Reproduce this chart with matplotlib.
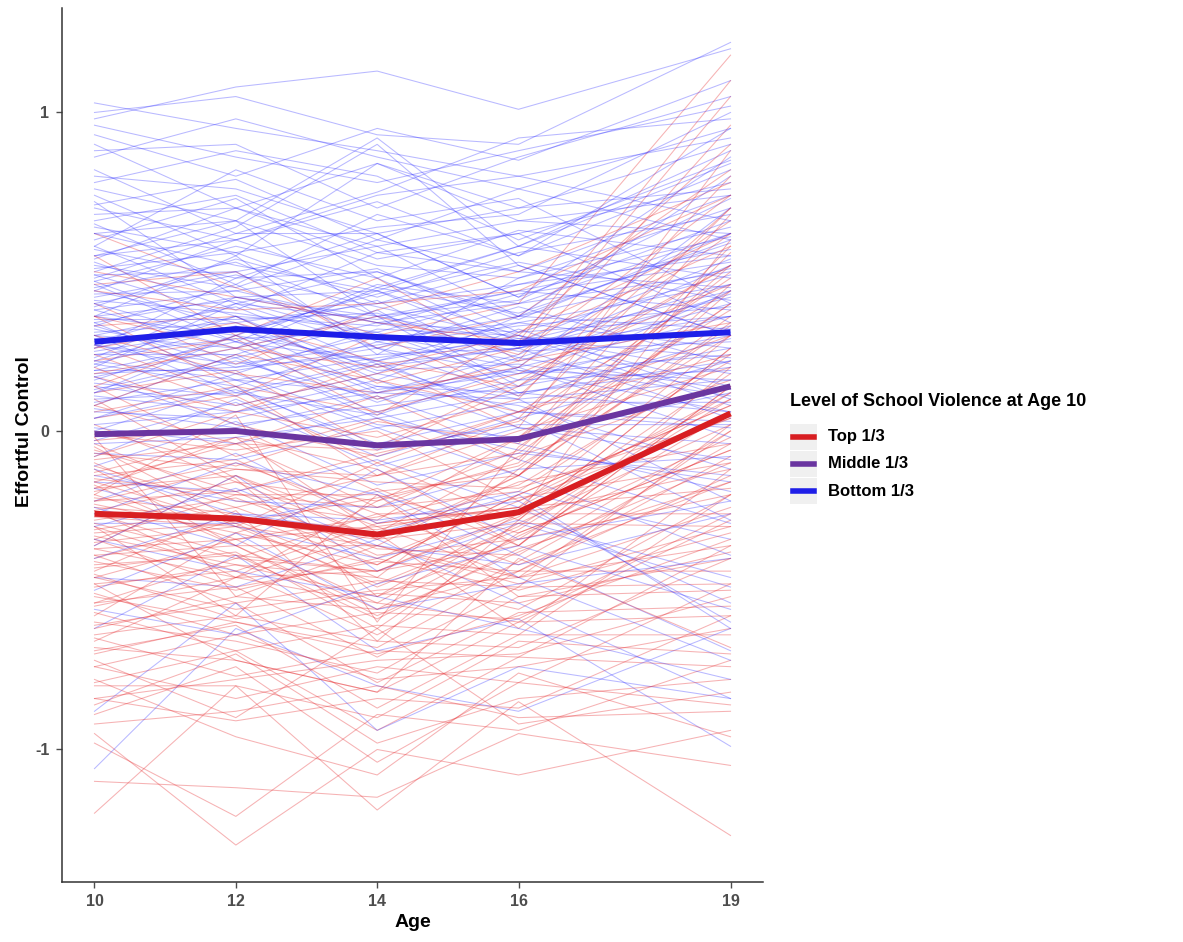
import matplotlib.pyplot as plt
from matplotlib.lines import Line2D
from matplotlib.patches import Rectangle

plt.rcParams['font.family'] = ['Liberation Sans', 'DejaVu Sans']
plt.rcParams['axes.unicode_minus'] = False

ages = [10, 12, 14, 16, 19]

# group means (thick lines)
mean_top = [-0.26, -0.275, -0.325, -0.255, 0.055]
mean_middle = [-0.01, 0.0, -0.045, -0.025, 0.14]
mean_bottom = [0.28, 0.32, 0.295, 0.276, 0.31]

# individual trajectories, bottom 1/3 violence (blue)
bottom_lines = [
    [1.03, 0.95, 0.88, 0.80, 0.92], [0.98, 1.08, 1.13, 1.01, 1.20],
    [1.00, 1.05, 0.93, 0.90, 1.22], [0.93, 0.80, 0.95, 0.85, 1.10],
    [0.88, 0.90, 0.70, 0.86, 1.05], [0.82, 0.62, 0.75, 0.92, 0.98],
    [0.78, 0.88, 0.80, 0.60, 0.85], [0.74, 0.55, 0.84, 0.70, 0.76],
    [0.71, 0.79, 0.60, 0.76, 0.95], [0.68, 0.70, 0.58, 0.66, 0.62],
    [0.65, 0.46, 0.68, 0.55, 0.82], [0.62, 0.66, 0.52, 0.48, 0.70],
    [0.60, 0.73, 0.48, 0.63, 0.55], [0.57, 0.48, 0.62, 0.42, 0.66],
    [0.55, 0.60, 0.45, 0.58, 0.88], [0.53, 0.38, 0.56, 0.50, 0.45],
    [0.51, 0.56, 0.40, 0.46, 0.61], [0.49, 0.50, 0.58, 0.36, 0.51],
    [0.47, 0.31, 0.43, 0.53, 0.41], [0.45, 0.53, 0.36, 0.41, 0.73],
    [0.43, 0.44, 0.51, 0.31, 0.36], [0.41, 0.37, 0.31, 0.43, 0.53],
    [0.40, 0.49, 0.39, 0.29, 0.31], [0.38, 0.26, 0.45, 0.37, 0.59],
    [0.36, 0.41, 0.29, 0.34, 0.26], [0.35, 0.35, 0.37, 0.23, 0.43],
    [0.33, 0.46, 0.26, 0.39, 0.21], [0.32, 0.23, 0.34, 0.31, 0.49],
    [0.30, 0.39, 0.21, 0.26, 0.36], [0.29, 0.31, 0.41, 0.19, 0.16],
    [0.27, 0.21, 0.27, 0.33, 0.39], [0.26, 0.36, 0.19, 0.21, 0.11],
    [0.24, 0.29, 0.31, 0.16, 0.33], [0.22, 0.16, 0.23, 0.29, 0.23],
    [0.21, 0.33, 0.13, 0.19, 0.06], [0.19, 0.19, 0.26, 0.11, 0.29],
    [0.17, 0.26, 0.09, 0.23, 0.13], [0.15, 0.11, 0.21, 0.06, 0.01],
    [0.13, 0.23, 0.06, 0.16, 0.19], [0.11, 0.06, 0.16, 0.01, -0.09],
    [0.09, 0.16, 0.01, 0.09, 0.09], [0.07, 0.01, 0.11, -0.04, -0.19],
    [0.04, 0.13, -0.04, 0.06, 0.03], [0.01, -0.04, 0.06, -0.09, -0.29],
    [-0.03, 0.09, -0.11, 0.01, -0.04], [-0.07, -0.09, 0.01, -0.14, -0.39],
    [-0.11, 0.03, -0.17, -0.07, -0.14], [-0.16, -0.19, -0.09, -0.24, -0.54],
    [-0.22, -0.07, -0.29, -0.19, -0.34], [-0.29, -0.29, -0.19, -0.39, -0.69],
    [-0.36, -0.14, -0.44, -0.29, -0.49], [-0.46, -0.49, -0.34, -0.54, -0.84],
    [-0.62, -0.39, -0.69, -0.59, -0.99], [-0.88, -0.54, -0.94, -0.74, -0.84],
    [-1.06, -0.62, -0.80, -0.88, -0.62], [0.58, 0.82, 0.66, 0.73, 0.40],
    [0.44, 0.60, 0.72, 0.55, 0.95], [0.36, 0.55, 0.24, 0.48, 0.64],
    [0.26, 0.48, 0.50, 0.36, 0.80], [0.46, 0.28, 0.22, 0.30, 0.08],
    [0.20, 0.40, 0.35, 0.44, 0.57], [0.12, 0.30, 0.44, 0.26, 0.46],
    [0.72, 0.42, 0.36, 0.12, 0.22], [0.30, 0.12, 0.05, 0.20, 0.70],
    [0.50, 0.64, 0.90, 0.52, 0.30], [0.62, 0.52, 0.44, 0.58, 0.48],
    [0.58, 0.40, 0.50, 0.35, 0.62], [0.55, 0.66, 0.36, 0.44, 0.38],
    [0.52, 0.45, 0.60, 0.50, 0.74], [0.49, 0.36, 0.33, 0.46, 0.55],
    [0.47, 0.58, 0.48, 0.28, 0.44], [0.44, 0.34, 0.40, 0.52, 0.30],
    [0.42, 0.50, 0.28, 0.36, 0.60], [0.40, 0.28, 0.46, 0.40, 0.50],
    [0.38, 0.44, 0.34, 0.25, 0.28], [0.36, 0.30, 0.22, 0.34, 0.46],
    [0.34, 0.42, 0.44, 0.30, 0.18], [0.33, 0.20, 0.30, 0.22, 0.40],
    [0.31, 0.34, 0.18, 0.36, 0.32], [0.30, 0.26, 0.36, 0.28, 0.54],
    [0.28, 0.40, 0.26, 0.18, 0.24], [0.27, 0.18, 0.32, 0.30, 0.14],
    [0.25, 0.32, 0.20, 0.26, 0.42], [0.24, 0.24, 0.38, 0.14, 0.26],
    [0.22, 0.36, 0.16, 0.32, 0.10], [0.21, 0.14, 0.28, 0.20, 0.36],
    [0.19, 0.28, 0.14, 0.12, 0.20], [0.18, 0.20, 0.24, 0.26, 0.04],
    [0.16, 0.30, 0.12, 0.18, 0.30], [0.14, 0.08, 0.18, 0.10, 0.16],
    [0.12, 0.22, 0.10, 0.20, -0.02], [0.10, 0.12, 0.22, 0.04, 0.22],
    [0.08, 0.24, 0.04, 0.12, 0.06], [0.06, 0.04, 0.14, 0.08, -0.12],
    [0.04, 0.18, 0.02, -0.02, 0.12], [0.02, 0.06, 0.12, 0.10, -0.22],
    [0.00, 0.14, -0.06, 0.02, 0.02], [-0.04, -0.02, 0.04, -0.06, -0.16],
    [-0.08, 0.10, -0.08, 0.04, -0.28], [0.66, 0.74, 0.56, 0.62, 0.78],
    [0.70, 0.60, 0.74, 0.80, 0.66], [0.80, 0.76, 0.62, 0.70, 0.90],
    [0.90, 0.70, 0.84, 0.66, 0.74], [0.96, 0.86, 0.78, 0.88, 1.02],
    [0.86, 0.98, 0.86, 0.76, 0.60], [0.76, 0.66, 0.92, 0.58, 0.84],
    [0.64, 0.56, 0.64, 0.68, 1.00], [0.54, 0.70, 0.54, 0.62, 0.34],
    [0.48, 0.62, 0.62, 0.42, 0.86], [0.39, 0.54, 0.42, 0.56, 0.68],
    [0.34, 0.16, 0.12, 0.24, 0.52], [0.23, 0.42, 0.34, 0.40, 0.62],
    [0.17, 0.02, 0.08, 0.14, 0.44], [-0.14, -0.22, -0.24, -0.12, -0.08],
    [-0.24, -0.36, -0.12, -0.34, -0.22], [-0.30, -0.18, -0.36, -0.42, -0.26],
    [-0.40, -0.26, -0.28, -0.22, -0.60], [-0.18, -0.30, -0.40, -0.28, -0.46],
    [-0.50, -0.32, -0.56, -0.48, -0.40], [-0.26, -0.10, -0.20, -0.46, -0.72],
    [-0.56, -0.64, -0.48, -0.36, -0.56], [-0.12, -0.26, -0.32, -0.20, -0.62],
    [-0.34, -0.44, -0.52, -0.62, -0.78],
]

# individual trajectories, top 1/3 violence (red)
top_lines = [
    [0.62, 0.45, 0.30, 0.40, 1.18], [0.55, 0.30, 0.48, 0.22, 0.96],
    [0.46, 0.50, 0.26, 0.36, 0.82], [0.40, 0.21, 0.38, 0.50, 0.78],
    [0.33, 0.36, 0.15, 0.26, 1.05], [0.27, 0.11, 0.30, 0.11, 0.70],
    [0.22, 0.29, 0.05, 0.31, 0.62], [0.17, 0.06, 0.21, 0.01, 0.88],
    [0.12, 0.19, -0.05, 0.16, 0.52], [0.08, -0.04, 0.11, -0.09, 0.58],
    [0.04, 0.11, -0.10, 0.06, 0.44], [0.00, -0.11, 0.03, -0.04, 0.68],
    [-0.03, 0.01, -0.19, -0.14, 0.33], [-0.06, -0.19, -0.07, 0.03, 0.48],
    [-0.09, -0.04, -0.24, -0.19, 0.24], [-0.11, -0.24, -0.14, -0.07, 0.40],
    [-0.14, -0.09, -0.29, -0.24, 0.12], [-0.16, -0.29, -0.21, -0.11, 0.30],
    [-0.18, -0.14, -0.34, -0.29, 0.02], [-0.20, -0.34, -0.27, -0.17, 0.22],
    [-0.22, -0.19, -0.39, -0.34, 0.06], [-0.24, -0.27, -0.31, -0.21, -0.10],
    [-0.26, -0.39, -0.44, -0.27, 0.18], [-0.28, -0.21, -0.37, -0.39, 0.00],
    [-0.30, -0.44, -0.29, -0.24, -0.18], [-0.32, -0.29, -0.49, -0.31, 0.10],
    [-0.34, -0.49, -0.41, -0.44, -0.08], [-0.37, -0.34, -0.54, -0.29, -0.30],
    [-0.39, -0.54, -0.47, -0.49, 0.02], [-0.42, -0.39, -0.59, -0.37, -0.16],
    [-0.45, -0.59, -0.51, -0.54, -0.38], [-0.48, -0.44, -0.64, -0.41, -0.04],
    [-0.51, -0.64, -0.57, -0.59, -0.26], [-0.54, -0.49, -0.71, -0.49, -0.48],
    [-0.57, -0.69, -0.61, -0.64, -0.20], [-0.61, -0.54, -0.79, -0.57, -0.55],
    [-0.65, -0.77, -0.69, -0.71, -0.36], [-0.69, -0.61, -0.87, -0.64, -0.64],
    [-0.74, -0.84, -0.74, -0.79, -0.48], [-0.79, -0.69, -0.94, -0.71, -0.74],
    [-0.84, -0.91, -0.84, -0.87, -0.58], [-0.89, -0.74, -1.04, -0.79, -0.86],
    [-0.98, -1.21, -0.89, -0.94, -0.72], [-1.10, -1.12, -1.15, -0.95, -1.05],
    [-1.20, -0.80, -1.19, -0.85, -1.27], [-0.95, -1.30, -1.00, -1.08, -0.94],
    [-0.05, -0.28, -0.46, -0.12, 0.36], [-0.18, -0.02, -0.12, -0.36, 0.14],
    [-0.25, -0.46, -0.22, -0.02, 0.50], [-0.36, -0.14, -0.30, -0.46, -0.24],
    [-0.44, -0.25, -0.66, -0.28, 0.26], [-0.12, -0.36, -0.56, -0.33, -0.02],
    [-0.30, -0.58, -0.20, -0.52, -0.40], [-0.58, -0.32, -0.42, -0.20, 0.08],
    [-0.02, -0.52, -0.36, -0.48, -0.30], [-0.66, -0.46, -0.32, -0.62, -0.12],
    [0.10, -0.15, -0.52, -0.26, 0.60], [-0.48, -0.72, -0.82, -0.40, -0.68],
    [-0.20, 0.05, -0.60, -0.05, 0.40], [-0.72, -0.90, -0.62, -0.92, -0.82],
    [0.20, 0.02, -0.08, 0.06, 0.30], [0.14, -0.08, 0.04, -0.14, 0.46],
    [0.06, 0.14, -0.14, 0.00, 0.20], [0.02, -0.16, -0.22, -0.10, 0.56],
    [-0.01, -0.06, 0.00, -0.22, 0.10], [-0.04, -0.22, -0.28, -0.02, 0.38],
    [-0.07, -0.12, -0.16, -0.18, 0.04], [-0.10, -0.30, -0.10, -0.28, 0.26],
    [-0.13, -0.02, -0.32, -0.08, 0.16], [-0.15, -0.20, -0.20, -0.32, -0.06],
    [-0.17, -0.36, -0.36, -0.14, 0.34], [-0.19, -0.10, -0.26, -0.26, -0.12],
    [-0.21, -0.26, -0.42, -0.20, 0.08], [-0.23, -0.32, -0.18, -0.36, 0.20],
    [-0.25, -0.16, -0.34, -0.16, -0.04], [-0.27, -0.30, -0.48, -0.30, 0.12],
    [-0.29, -0.40, -0.26, -0.42, -0.16], [-0.31, -0.24, -0.40, -0.22, 0.04],
    [-0.33, -0.42, -0.52, -0.34, -0.20], [-0.35, -0.30, -0.36, -0.46, 0.00],
    [-0.37, -0.46, -0.44, -0.26, -0.26], [-0.39, -0.36, -0.58, -0.38, -0.10],
    [-0.41, -0.50, -0.40, -0.50, -0.32], [-0.43, -0.38, -0.62, -0.32, -0.06],
    [-0.46, -0.56, -0.50, -0.46, -0.36], [-0.49, -0.42, -0.46, -0.56, -0.20],
    [-0.52, -0.60, -0.68, -0.44, -0.44], [-0.55, -0.46, -0.54, -0.60, -0.28],
    [-0.60, -0.66, -0.76, -0.52, -0.50], [-0.64, -0.58, -0.66, -0.68, -0.40],
    [-0.68, -0.72, -0.82, -0.60, -0.58], [-0.74, -0.64, -0.78, -0.74, -0.62],
    [-0.80, -0.80, -0.90, -0.66, -0.70], [-0.86, -0.70, -0.98, -0.84, -0.78],
    [-0.92, -0.88, -0.80, -0.90, -0.88], [-0.78, -0.96, -1.08, -0.76, -0.96],
    [0.30, 0.18, 0.12, 0.20, 0.66], [0.36, 0.26, 0.20, 0.30, 0.90],
    [0.44, 0.38, 0.40, 0.44, 0.74], [0.50, 0.42, 0.34, 0.28, 1.10],
    [-0.08, 0.06, -0.02, 0.10, 0.80], [-0.16, -0.04, -0.06, 0.14, 0.62],
    [-0.22, -0.12, -0.14, 0.04, 0.70], [-0.34, -0.20, -0.24, -0.06, 0.52],
    [-0.40, -0.28, -0.34, -0.14, 0.44], [-0.46, -0.34, -0.30, -0.24, 0.30],
    [-0.54, -0.40, -0.44, -0.36, 0.14], [-0.62, -0.52, -0.56, -0.44, -0.14],
    [-0.70, -0.60, -0.70, -0.58, -0.34], [-0.84, -0.78, -0.72, -0.70, -0.52],
    [0.26, 0.34, 0.22, 0.14, 0.52], [0.18, 0.26, 0.36, 0.24, 0.74],
    [0.14, 0.30, 0.10, 0.22, 0.34], [0.36, 0.14, 0.06, 0.18, 0.46],
    [0.24, 0.08, 0.18, 0.28, 0.58], [0.08, 0.24, 0.16, 0.06, 0.24],
]

group_labels = ['Top 1/3', 'Middle 1/3', 'Bottom 1/3']
mean_colors = ['#d81e22', '#6a35a0', '#1e1ee8']

fig = plt.figure(figsize=(11.83, 9.42), dpi=100)
ax = fig.add_axes([0.0524, 0.0637, 0.5926, 0.9278])

# interleave the thin lines so neither colour sits fully on top
n = max(len(top_lines), len(bottom_lines))
for i in range(n):
    if i < len(top_lines):
        ax.plot(ages, top_lines[i], color='#e62a2e', lw=0.75, alpha=0.36)
    if i < len(bottom_lines):
        ax.plot(ages, bottom_lines[i], color='#2a2aff', lw=0.75, alpha=0.33)

for vals, c in zip([mean_top, mean_middle, mean_bottom], mean_colors):
    ax.plot(ages, vals, color=c, lw=4.3, solid_capstyle='butt', zorder=5)

ax.set_xlim(9.54, 19.46)
ax.set_ylim(-1.416, 1.328)
ax.set_xticks(ages)
ax.set_yticks([-1, 0, 1])
for s in ['top', 'right']:
    ax.spines[s].set_visible(False)
for s in ['left', 'bottom']:
    ax.spines[s].set_color('#333333')
    ax.spines[s].set_linewidth(1.1)
ax.tick_params(colors='#4d4d4d', length=4, width=1.0, labelsize=11.5, pad=5)
for lab in ax.get_xticklabels() + ax.get_yticklabels():
    lab.set_fontweight('bold')
ax.set_xlabel('Age', fontsize=14, fontweight='bold', labelpad=3)
ax.set_ylabel('Effortful Control', fontsize=14, fontweight='bold')
ax.yaxis.set_label_coords(-0.041, 0.515)

# legend drawn in figure coordinates (ggplot-style grey key boxes)
W, H = 1183, 942
fig.text(790 / W, 1 - 401 / H, 'Level of School Violence at Age 10',
         fontsize=13, fontweight='bold', va='center', ha='left')
for k, (lab, c) in enumerate(zip(group_labels, mean_colors)):
    yc = 437 + 27 * k
    fig.patches.append(Rectangle((790 / W, 1 - (yc + 13) / H), 27 / W, 26 / H,
                                 transform=fig.transFigure, facecolor='#f0f0f0',
                                 edgecolor='none'))
    fig.lines.append(Line2D([793 / W, 814 / W], [1 - yc / H, 1 - yc / H],
                            transform=fig.transFigure, color=c, lw=4))
    fig.text(828 / W, 1 - yc / H, lab, fontsize=12, fontweight='bold',
             va='center', ha='left')

fig.savefig('out.png', dpi=100)
